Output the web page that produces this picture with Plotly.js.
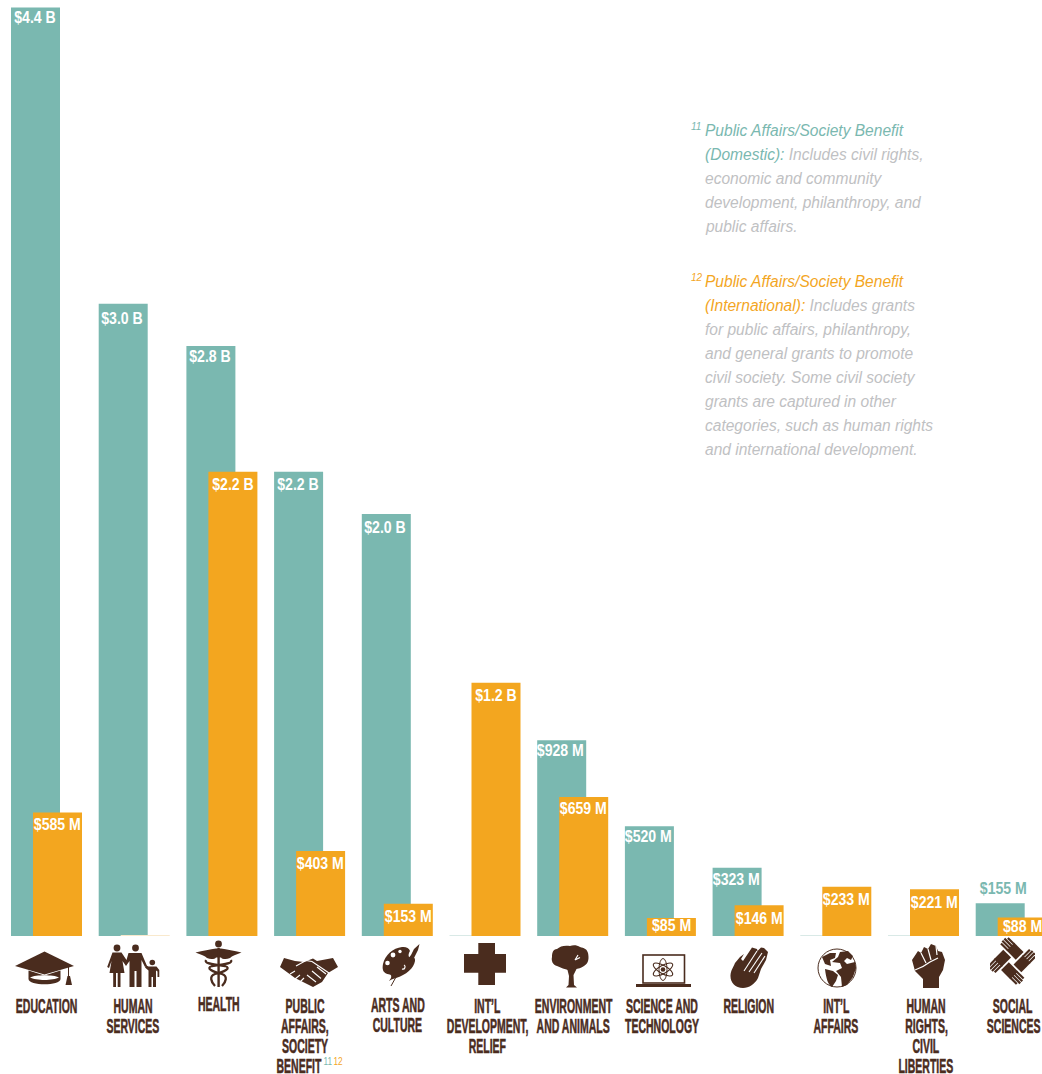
<!DOCTYPE html>
<html><head><meta charset="utf-8">
<script src="https://cdn.plot.ly/plotly-3.0.1.min.js"></script>
<style>html,body{margin:0;padding:0;background:#fff;overflow:hidden}#c{width:1042px;height:1074px}</style>
</head><body><div id="c"></div>
<script>
// ---------- data ----------
const categories = [
  ["EDUCATION"],["HUMAN","SERVICES"],["HEALTH"],["PUBLIC","AFFAIRS,","SOCIETY","BENEFIT"],
  ["ARTS AND","CULTURE"],["INT\u2019L","DEVELOPMENT,","RELIEF"],["ENVIRONMENT","AND ANIMALS"],
  ["SCIENCE AND","TECHNOLOGY"],["RELIGION"],["INT\u2019L","AFFAIRS"],["HUMAN","RIGHTS,","CIVIL","LIBERTIES"],["SOCIAL","SCIENCES"]
];
const domestic      = [4400,2996,2796,2200,2000,null,928,520,323,null,null,155];
const international = [585,null,2200,403,153,1200,659,85,146,233,221,88];
// barely visible hairline bars where a series is close to nothing
const domesticTrace      = [null,null,null,null,null,5,null,null,null,5,5,null];
const internationalTrace = [null,5,null,null,null,null,null,null,null,null,null,null];

// ---------- layout constants ----------
const W=1042,H=1074,BASE=936;
const TEAL="#7ab8b0",ORANGE="#f3a61f",BROWN="#4a2c1e",GREY="#bfc1c3";
const unit=87.7, firstCentre=46.5;
const barW=49/unit, offT=-35.5/unit, offO=-13.5/unit;
const idx=categories.map((_,i)=>i);
const FONT='"Liberation Sans",sans-serif';
const px=x=>x/W, py=y=>1-y/BASE;
const fmt=v=>v>=1000?"$"+(v/1000).toFixed(1)+" B":"$"+v+" M";

const bar=(y,color,name)=>({type:"bar",x:idx,y,name,width:barW,offset:name[0]=="D"?offT:offO,
  marker:{color,line:{width:0}},hoverinfo:"skip"});
const traces=[
  bar(domestic,TEAL,"Domestic"),
  bar(domesticTrace,"#d9e9e6","Domestic trace"),
  bar(internationalTrace,"#f9e9cd","International trace"),
  bar(international,ORANGE,"International")
];

// text squeezed after drawing, because no condensed face is installed
const squeeze=[];
const annotations=[];
const add=(a,sx,origin,stroke)=>{ if(sx) squeeze.push([annotations.length,sx,origin||"c",stroke||0]); annotations.push(a); };

// ---------- value labels ----------
const domesticDrop=[10,15,10,13,13,0,10,10,12,0,0,-15];
const internationalDrop=[12,0,13,13,13,13,12,7,13,13,13,9];
idx.forEach(i=>{
  if(domestic[i]!=null) add({x:i+offT+barW/2,y:domestic[i],xref:"x",yref:"y",text:fmt(domestic[i]),showarrow:false,
    yanchor:"middle",yshift:-domesticDrop[i],xshift:domestic[i]==155?3:-1,font:{family:FONT,size:17,color:domestic[i]==155?TEAL:"#fff",weight:700}},0.83);
});
idx.forEach(i=>{
  if(international[i]!=null) add({x:i+offO+barW/2,y:international[i],xref:"x",yref:"y",text:fmt(international[i]),showarrow:false,
    yanchor:"middle",yshift:-internationalDrop[i],font:{family:FONT,size:17,color:"#fff",weight:700}},0.83);
});

// ---------- category labels (one annotation per line, for tight leading) ----------
const labelCentre=[46,132.5,219,304.5,397.5,487,573,662,749,836,926,1013];
const firstLineY=[1005,1005,1003,1005,1004,1005,1005,1005,1005,1005,1005,1005];
categories.forEach((lines,i)=>lines.forEach((t,k)=>{
  const nudge=t=="BENEFIT"?-5.5:0;
  add({xref:"paper",yref:"paper",x:px(labelCentre[i]+nudge),y:py(firstLineY[i]+k*20),text:t,showarrow:false,
    xanchor:"center",yanchor:"middle",font:{family:FONT,size:21,color:BROWN,weight:700}},0.5,"c",0.6);
}));
add({xref:"paper",yref:"paper",x:px(327.5),y:py(1061),text:"11",showarrow:false,xanchor:"center",yanchor:"middle",font:{family:FONT,size:11,color:TEAL}},0.75);
add({xref:"paper",yref:"paper",x:px(338),y:py(1061),text:"12",showarrow:false,xanchor:"center",yanchor:"middle",font:{family:FONT,size:11,color:ORANGE}},0.75);

// ---------- notes ----------
const noteLines=[
 [130.5,`<span style="color:${TEAL}">Public Affairs/Society Benefit</span>`],
 [154.5,`<span style="color:${TEAL}">(Domestic):</span> Includes civil rights,`],
 [178,"economic and community"],[202,"development, philanthropy, and"],[226,"public affairs."],
 [281,`<span style="color:${ORANGE}">Public Affairs/Society Benefit</span>`],
 [305.5,`<span style="color:${ORANGE}">(International):</span> Includes grants`],
 [329,"for public affairs, philanthropy,"],[353,"and general grants to promote"],
 [377,"civil society. Some civil society"],[401,"grants are captured in other"],
 [425.5,"categories, such as human rights"],[449,"and international development."]
];
noteLines.forEach(([y,t])=>add({xref:"paper",yref:"paper",x:px(703),y:py(y),text:"<i>"+t+"</i>",showarrow:false,
  xanchor:"left",yanchor:"middle",align:"left",font:{family:FONT,size:17,color:GREY}},0.915,"l"));
add({xref:"paper",yref:"paper",x:px(688.5),y:py(127),text:"<i>11</i>",showarrow:false,xanchor:"left",yanchor:"middle",font:{family:FONT,size:10,color:TEAL}});
add({xref:"paper",yref:"paper",x:px(688.5),y:py(277),text:"<i>12</i>",showarrow:false,xanchor:"left",yanchor:"middle",font:{family:FONT,size:10,color:ORANGE}});

// ---------- icons (drawn in page-pixel viewBoxes) ----------
const d=BROWN,w="#fff";
const socialHand=k=>`<g transform="translate(1012.3 961) rotate(${k*90}) translate(1 -11.5) rotate(-135)" fill="${d}"><path d="M-9 -5.5H4V5.5H-9Z"/><rect x="3" y="-5.5" width="10" height="2.2"/><rect x="3" y="-2.6" width="11" height="2.2"/><rect x="3" y="0.3" width="11" height="2.2"/><rect x="3" y="3.2" width="9" height="2.2"/></g>`;
const icons=[
 [12,948,66,40,`<path fill="${d}" d="M15 966L44.5 951.5 74 966 44.5 974.5Z"/><path fill="${d}" d="M28.5 970.5L44.5 975.5 60.5 970.5V979C60.5 986 28.5 986 28.5 979Z"/><path fill="${w}" d="M30 977.5C36 974.6 53 974.6 59 977.5 53 980.8 36 980.8 30 977.5Z"/><path stroke="${d}" stroke-width="1" d="M68.5 967V977"/><path fill="${d}" d="M67.5 976H70L72 985H65.5Z"/>`],
 [105,943,57,46,`<g fill="${d}"><circle cx="117" cy="948" r="3.4"/><circle cx="135.5" cy="948" r="3.4"/><circle cx="152.3" cy="962.5" r="2.8"/><path d="M112.5 952.5H121.5L126.5 960 128.5 953H141.5L147 966 145 967 141.5 960V987H136.5V971H134.5V987H129.5V961L126 966 122.5 961 124.5 973H120.5V987H117.7V973H116V987H113.2V973H109.5L111.5 961 109 968 107.2 967Z"/><path d="M148.5 966.5H156.5L159.3 970V977H157.5V971.5L156 970.5V987H153V977H151.5V987H148.5V970.5L145 967.5 146.3 965.5Z"/></g>`],
 [194,939,50,50,`<g fill="${d}"><circle cx="218.5" cy="944" r="3.4"/><path d="M195.5 952.5C203 951 210 949 216 948.5H221C227 949 234 951 241.5 952.5 236 955 232 955.5 230 958 226 960 222 959 221 957.5H216C215 959 211 960 207 958 205 955.5 201 955 195.5 952.5Z"/><rect x="217.4" y="948" width="2.4" height="39"/></g><g fill="none" stroke="${d}" stroke-width="2.3"><path d="M206 960C204 964 214 964 225 966 232 968 224 972 215 974 209 976 211 982 215 986"/><path d="M231 960C233 964 223 964 212 966 205 968 213 972 222 974 228 976 226 982 222 986"/></g>`],
 [278,955,62,34,`<path fill="${d}" d="M280 967L284 958 295 961 304 962 313 958.5 317 961 333 958 338 967 328 973 322 982 313 987 305 983 295 978Z"/><g fill="none" stroke="${w}" stroke-width="1.1"><path d="M296 966L306 960.5 312 961.5 329 973"/><path d="M317 967L326 974M312 971L321 978.5M307 975L316 982"/><path d="M290 974L295 971M295 979L300 975M300 982L304 978"/></g>`],
 [380,942,42,46,`<path fill="${d}" d="M402 947C393 948 385 955 383 964 382 969 383 972 386 973.5 390 975 392 974 391 978L389 981 391.5 979.5 396 978C406 975 414 968 415 961 415.5 957 413 957 411 957.5 408 958 408 954 410 951 409 948 406 946.5 402 947Z"/><circle cx="393" cy="955" r="2.4" fill="${w}"/><circle cx="387.5" cy="963" r="2.3" fill="${w}"/><circle cx="400" cy="951.5" r="1.7" fill="${w}"/><path d="M402 969C405 970 406 966 404 965" stroke="${w}" fill="none" stroke-width="1.2"/><path fill="${d}" d="M419.5 944L418 950 414 958 408 964 405.5 962 411 955 414 949Z"/><path stroke="${d}" stroke-width="1" d="M396 977L391 986"/>`],
 [462,941,46,46,`<path fill="${d}" d="M478.3 943H495V954H506V972.7H495V985H478.3V972.7H464V954H478.3Z"/>`],
 [550,944,40,46,`<path fill="${d}" d="M570 946C565 945 560 946 557 949 553 949 552 953 552 957 551 961 553 965 557 966 561 968 565 969 568 970L571 968C574 970 580 969 584 966 589 963 589 958 588 953 587 949 584 948 580 947 577 945 573 945 570 946Z"/><path fill="${d}" d="M567 968H577L573.5 975 574 985 577 987.5H566L568.5 985 569 976Z"/><path fill="none" stroke="${w}" stroke-width="1.2" d="M575 960L580 957.5M575 960L578 955"/>`],
 [634,952,60,37,`<rect x="643" y="955" width="41.5" height="28" fill="${w}" stroke="${d}" stroke-width="1.6"/><rect x="636" y="984" width="55" height="3" fill="${d}"/><g fill="none" stroke="${d}" stroke-width="1"><ellipse cx="663" cy="969.5" rx="11" ry="4" transform="rotate(30 663 969.5)"/><ellipse cx="663" cy="969.5" rx="11" ry="4" transform="rotate(-30 663 969.5)"/><ellipse cx="663" cy="969.5" rx="11" ry="4" transform="rotate(90 663 969.5)"/></g><circle cx="663" cy="969.5" r="2.3" fill="${d}"/>`],
 [728,945,42,45,`<path fill="${d}" d="M752 947.5L757 949 757.5 951 761 947.5 764 948 768 952 766 960 761 969 758 978C755 984 749 988 743 988 735 988 730 982 730.5 975 731 970 733 968 735 963L740 957 744 954 741 959 743 961Z"/><g stroke="${w}" stroke-width="1.1" fill="none"><path d="M744 971L757 951"/><path d="M749 972L762 953"/><path d="M754 973L765 956"/></g>`],
 [816,947,42,42,`<circle cx="837" cy="968" r="19" fill="${w}" stroke="${d}" stroke-width="1"/><path fill="${d}" d="M822 957L830 953 836 953 835 958 830 960 831 966 825 964ZM825 969L833 971 838 975 836 981 832 987C828 985 826 978 825 969ZM840 952L848 951 853 956 851 960 847 958 844 961 847 964 855 962 856 968 853 977 847 985 842 987 841 977 836 971 842 968 840 963 832 962 838 957Z"/>`],
 [910,941,37,48,`<path fill="${d}" d="M923 988V979L915 971 912 960 918 951 921 953 924 947 928 949 931 944 936 946 938 951 942 952 945 960 943 970 939 977V988Z"/><g fill="none" stroke="${w}" stroke-width="1.2"><path d="M921 953L926 963M928 949L931 960M936 946L937 955"/><path d="M915 970C921 968 926 965 930 962L938 958"/></g>`],
 [990,937,45,48,socialHand(0)+socialHand(1)+socialHand(2)+socialHand(3)]
];
const images=icons.map(([x,y,iw,ih,body])=>({
  source:"data:image/svg+xml,"+encodeURIComponent(`<svg xmlns="http://www.w3.org/2000/svg" width="${iw}" height="${ih}" viewBox="${x} ${y} ${iw} ${ih}">${body}</svg>`),
  xref:"paper",yref:"paper",x:px(x),y:py(y),sizex:iw/W,sizey:ih/BASE,xanchor:"left",yanchor:"top",sizing:"stretch",layer:"above"
}));

const layout={
  width:W,height:H,margin:{l:0,r:0,t:0,b:H-BASE,pad:0},
  paper_bgcolor:"#fff",plot_bgcolor:"#fff",barmode:"overlay",showlegend:false,
  xaxis:{range:[-firstCentre/unit,(W-firstCentre)/unit],visible:false,fixedrange:true},
  yaxis:{range:[0,BASE/0.211],visible:false,fixedrange:true},
  annotations,images
};
Plotly.newPlot("c",traces,layout,{displayModeBar:false,staticPlot:true}).then(gd=>{
  const els=[...gd.querySelectorAll(".annotation")];
  squeeze.forEach(([n,sx,origin,stroke])=>{
    const g=els.find(e=>e.getAttribute("data-index")==String(n));
    if(!g) return;
    const t=g.querySelector("text");
    const b=t.getBBox(),ox=origin=="l"?b.x:b.x+b.width/2;
    t.setAttribute("transform",`translate(${ox} 0) scale(${sx} 1) translate(${-ox} 0)`);
    if(stroke){t.style.stroke=BROWN;t.style.strokeWidth=stroke+"px";}
  });
});
</script></body></html>
